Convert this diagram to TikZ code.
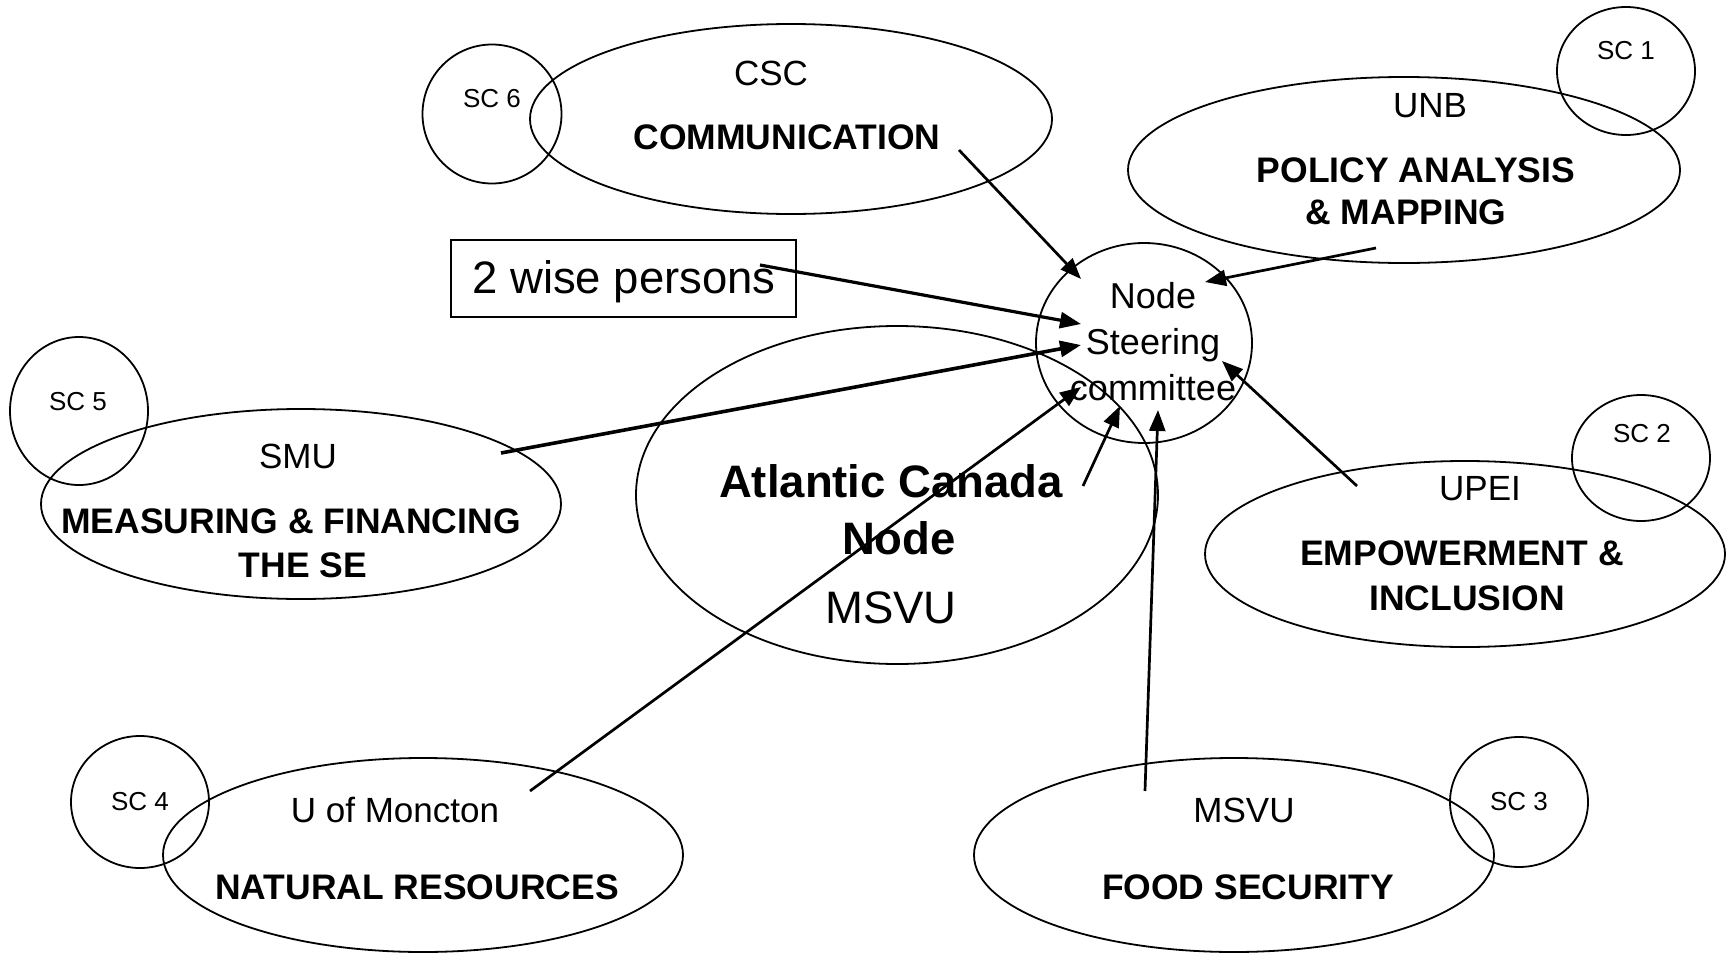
\documentclass[tikz,border=0pt]{standalone}
\usepackage{fontspec}
\setmainfont{Liberation Sans}
\usetikzlibrary{shapes.geometric,arrows.meta}
\begin{document}
\begin{tikzpicture}[x=1pt,y=-1pt,
  ell/.style={draw, ellipse, line width=1.8pt, inner sep=0pt},
  sc/.style={font=\fontsize{26}{30}\selectfont},
  uni/.style={font=\fontsize{35}{44}\selectfont},
  topic/.style={font=\fontsize{35.5}{44}\selectfont\bfseries, align=center},
  big/.style={font=\fontsize{45.5}{57}\selectfont\bfseries},
  arr/.style={line width=2.7pt, -{Triangle[length=21pt,width=16pt]}}]
\useasboundingbox (0,0) rectangle (1733,953);

% ellipses
\node[ell, minimum width=522pt, minimum height=338pt] (acnE) at (897,495) {};
\node[ell, minimum width=216pt, minimum height=200pt] (nscE) at (1144,343) {};
\node[ell, minimum width=522pt, minimum height=190pt] (cscE) at (791,119) {};
\node[ell, minimum width=139pt, minimum height=139pt] (sc6) at (492,114) {};
\node[ell, minimum width=552pt, minimum height=186pt] (unbE) at (1404,170) {};
\node[ell, minimum width=138pt, minimum height=128pt] (sc1) at (1626,71) {};
\node[ell, minimum width=520pt, minimum height=190pt] (smuE) at (301,504) {};
\node[ell, minimum width=138pt, minimum height=148pt] (sc5) at (79,411) {};
\node[ell, minimum width=520pt, minimum height=186pt] (upeiE) at (1465,554) {};
\node[ell, minimum width=138pt, minimum height=126pt] (sc2) at (1641,458) {};
\node[ell, minimum width=520pt, minimum height=194pt] (umE) at (423,855) {};
\node[ell, minimum width=138pt, minimum height=132pt] (sc4) at (140,802) {};
\node[ell, minimum width=520pt, minimum height=194pt] (msvuE) at (1234,855) {};
\node[ell, minimum width=138pt, minimum height=130pt] (sc3) at (1519,802) {};
\node[draw, line width=1.8pt, minimum width=345pt, minimum height=77pt, inner sep=0pt] (wise) at (623.5,278.5) {};

% texts
\node[sc] (t6) at (492,99) {SC 6};
\node[sc] (t1) at (1626,51) {SC 1};
\node[sc] (t5) at (78,402) {SC 5};
\node[sc] (t2) at (1642,434) {SC 2};
\node[sc] (t4) at (140,802) {SC 4};
\node[sc] (t3) at (1519,802) {SC 3};

\node[uni] (csc) at (771,73) {CSC};
\node[topic] (comm) at (787,137) {COMMUNICATION};
\node[uni] (unb) at (1430,106) {UNB};
\node[topic] (pol1) at (1416,170) {POLICY ANALYSIS};
\node[topic] (pol2) at (1406,212) {\& MAPPING};
\node[uni] (smu) at (298,456) {SMU};
\node[topic] (mes1) at (291,521) {MEASURING \& FINANCING};
\node[topic] (mes2) at (303,565) {THE SE};
\node[uni] (upei) at (1480,489) {UPEI};
\node[topic] (emp1) at (1462,553) {EMPOWERMENT \&};
\node[topic] (emp2) at (1467,598) {INCLUSION};
\node[uni] (um) at (395,810) {U of Moncton};
\node[topic] (nat) at (417,887) {NATURAL RESOURCES};
\node[uni] (msvu) at (1244,810) {MSVU};
\node[topic] (food) at (1248,887) {FOOD SECURITY};

\node[font=\fontsize{36}{46}\selectfont, align=center] (nsc) at (1153,342) {Node\\Steering\\committee};
\node[font=\fontsize{45.5}{56}\selectfont] (wtxt) at (624,282) {2 wise persons};
\node[big] (acn1) at (891,481) {Atlantic Canada};
\node[big] (acn2) at (899,538) {Node};
\node[font=\fontsize{45.5}{56}\selectfont] (acnm) at (891,608) {MSVU};

% connector end points
\coordinate (s1) at (959,150);   \coordinate (e1) at (1081,279);
\coordinate (s2) at (1376,248);  \coordinate (e2) at (1205,282);
\coordinate (s3) at (760,265);   \coordinate (e3) at (1081,324);
\coordinate (s4) at (501,453);   \coordinate (e4) at (1081,345);
\coordinate (s5) at (530,791);   \coordinate (e5) at (1081,387);
\coordinate (s6) at (1083,486);  \coordinate (e6) at (1120,406);
\coordinate (s7) at (1145,791);  \coordinate (e7) at (1158,410);
\coordinate (s8) at (1357,486);  \coordinate (e8) at (1222,361);

\draw[arr] (s1) -- (e1);
\draw[arr] (s2) -- (e2);
\draw[arr, line width=3.2pt] (s3) -- (e3);
\draw[arr, line width=3.6pt] (s4) -- (e4);
\draw[arr] (s5) -- (e5);
\draw[arr] (s6) -- (e6);
\draw[arr] (s7) -- (e7);
\draw[arr] (s8) -- (e8);
\end{tikzpicture}
\end{document}
